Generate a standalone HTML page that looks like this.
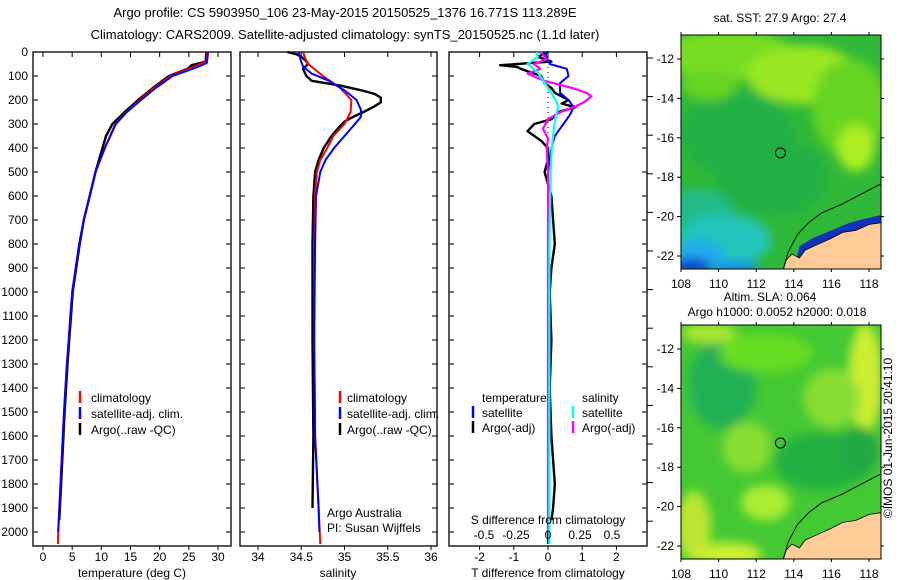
<!DOCTYPE html>
<html><head><meta charset="utf-8">
<style>
html,body{margin:0;padding:0;background:#fff;}
svg{display:block;font-family:"Liberation Sans",sans-serif;font-size:12px;}
</style></head>
<body>
<svg id="fig" width="900" height="580" viewBox="0 0 900 580">
<defs>
<filter id="blur1" x="-20%" y="-20%" width="140%" height="140%"><feGaussianBlur stdDeviation="5"/></filter>
<clipPath id="clipTop"><rect x="681" y="35" width="200" height="234"/></clipPath>
<clipPath id="clipBot"><rect x="681" y="325" width="200" height="234"/></clipPath>
</defs>
<text x="345" y="17" text-anchor="middle" font-size="13">Argo profile: CS 5903950_106 23-May-2015 20150525_1376 16.771S 113.289E</text>
<text x="345" y="39" text-anchor="middle" font-size="13">Climatology: CARS2009. Satellite-adjusted climatology: synTS_20150525.nc (1.1d later)</text>
<g id="panels"></g>
<g id="maps"></g>
<text transform="translate(892,438) rotate(-90)" text-anchor="middle" font-size="12">©IMOS 01-Jun-2015 20:41:10</text>
</svg>
<script>
// ---------------- data ----------------
const depthTicks = [0,100,200,300,400,500,600,700,800,900,1000,1100,1200,1300,1400,1500,1600,1700,1800,1900,2000];
const tempTicks = [0,5,10,15,20,25,30];
const salTicks = [34,34.5,35,35.5,36];
const tdiffTicks = [-2,-1,0,1,2];
const sdiffTicks = [-0.5,-0.25,0,0.25,0.5];
const sdiffTickLabels = ["-0.5","-0.25","0","0.25","0.5"];

const tClimDepth = [0,40,55,100,150,200,250,300,400,500,600,700,800,900,1000,1100,1200,1300,1500,1800,2000,2050];
const tClim      = [28.2,28,26.5,21.8,19,16.6,14.3,12.4,10.6,9.0,8.0,7.0,6.2,5.6,5.0,4.7,4.4,4.1,3.6,3.0,2.6,2.55];
const tSatDepth  = [0,45,60,100,150,200,250,300,400,500,600,700,800,900,1000,1100,1200,1300,1500,1800,2000];
const tSat       = [28.3,28.1,26.8,22.2,19.3,16.8,14.4,12.5,10.6,9.0,8.0,7.0,6.2,5.6,5.0,4.7,4.4,4.1,3.6,3.0,2.6];
const tArgoDepth = [0,40,55,70,100,150,200,250,300,350,400,500,600,700,800,900,1000,1100,1200,1300,1500,1800,1900,1950];
const tArgo      = [28,27.9,25.5,24.8,21.6,18.8,16.3,14,11.9,10.8,10.2,9.0,8.0,7.0,6.3,5.7,5.1,4.8,4.5,4.2,3.7,3.1,2.9,2.8];

const sClimDepth = [0,30,50,100,150,200,250,300,350,400,450,500,600,800,1200,1600,1900,2050];
const sClim      = [34.52,34.55,34.58,34.75,34.95,35.08,35.07,35.0,34.87,34.8,34.72,34.68,34.66,34.65,34.65,34.66,34.7,34.72];
const sSatDepth  = [0,30,60,90,120,160,200,240,270,300,350,400,450,500,600,800,1200,1600,1900,2000];
const sSat       = [34.47,34.49,34.52,34.62,34.82,35.0,35.14,35.19,35.19,35.12,35.0,34.88,34.78,34.72,34.67,34.66,34.65,34.66,34.7,34.71];
const sArgoDepth = [0,10,20,35,50,70,100,120,140,160,175,190,210,230,250,270,290,320,350,400,450,500,600,800,1200,1600,1900];
const sArgo      = [34.34,34.45,34.5,34.55,34.58,34.52,34.56,34.62,34.95,35.2,35.35,35.42,35.42,35.33,35.22,35.1,35.0,34.92,34.85,34.76,34.7,34.66,34.64,34.63,34.63,34.64,34.63];

const dTSatDepth  = [0,50,70,100,130,170,200,230,260,300,350,400,500,700,1000,1500,2050];
const dTSat       = [-0.1,0.05,0.55,0.6,0.35,0.35,0.6,0.75,0.65,0.45,0.2,0.1,0.0,0.0,0.0,0.0,0.0];
const dTArgoDepth = [0,20,40,55,62,70,85,100,130,150,170,200,215,230,250,280,300,330,370,400,450,500,600,700,800,900,1000,1200,1400,1600,1800,1900,1950];
const dTArgo      = [0,-0.3,0.1,-1.4,-0.9,-0.8,-0.5,-0.2,-0.1,0.1,0.2,0.6,0.4,0.8,0.3,0.1,-0.4,-0.6,-0.2,0,0,-0.1,0.1,0.15,0.2,0.1,0.05,0.1,0.05,0.1,0.2,0.15,0.1];
const dSSatDepth  = [0,20,50,80,100,150,200,230,270,300,350,400,500,800,2050];
const dSSat       = [-0.09,-0.08,-0.16,-0.09,-0.06,0.0,0.06,0.08,0.06,0.05,0.04,0.03,0.02,0.01,0.01];
const dSArgoDepth = [0,30,50,70,90,120,150,170,185,210,230,250,280,320,360,400,500,2000];
const dSArgo      = [-0.06,-0.01,-0.11,-0.06,-0.16,-0.03,0.19,0.3,0.34,0.28,0.2,0.1,0.0,-0.04,0.0,-0.01,0.0,0.0];

// ---------------- helpers ----------------
const NS = "http://www.w3.org/2000/svg";
const panelsG = document.getElementById('panels');
const mapsG = document.getElementById('maps');
function mk(tag, attrs, parent){ const e=document.createElementNS(NS,tag); for(const k in attrs) e.setAttribute(k,attrs[k]); parent.appendChild(e); return e; }
const yTop=52, yBot=546;
const yD = d => yTop + d*0.24;
const xT = v => 43 + v*5.833;
const xS = v => 258 + (v-34)*86.5;
const xDT = v => 548 + v*34.2;
const xDS = v => 548 + v*128;

function panel(x0,x1,name){
  const r = mk('rect',{x:x0,y:yTop,width:x1-x0,height:yBot-yTop,fill:'none',stroke:'#000','stroke-width':1.3},panelsG);
  
  
  depthTicks.forEach(d=>{
    mk('line',{x1:x0,x2:x0+5,y1:yD(d),y2:yD(d),stroke:'#000'},panelsG);
    mk('line',{x1:x1,x2:x1-5,y1:yD(d),y2:yD(d),stroke:'#000'},panelsG);
  });
}
function line(xs,ds,xf,color,w,name){
  const pts = xs.map((v,i)=>xf(v).toFixed(1)+','+yD(ds[i]).toFixed(1)).join(' ');
  const p = mk('polyline',{points:pts,fill:'none',stroke:color,'stroke-width':w,'stroke-linejoin':'round'},panelsG);
  
  
}
function txt(x,y,s,anchor,name,size){
  const t = mk('text',{x:x,y:y,'text-anchor':anchor||'start','font-size':size||12},panelsG);
  t.textContent=s;
  
  
  return t;
}
function xTicks(vals,labels,xf,x0,name){
  vals.forEach((v,i)=>{
    mk('line',{x1:xf(v),x2:xf(v),y1:yTop,y2:yTop+5,stroke:'#000'},panelsG);
    mk('line',{x1:xf(v),x2:xf(v),y1:yBot,y2:yBot+4,stroke:'#000'},panelsG);
    txt(xf(v),561,labels[i],'middle',name+'-tick-label');
  });
}

depthTicks.forEach(d=>{ txt(28,yD(d)+4,String(d),'end','depth-tick-label'); });

// panel 1 temperature
panel(33,231,'temperature-panel');
xTicks(tempTicks,tempTicks.map(String),xT,33,'temperature');
txt(132,577,'temperature (deg C)','middle','temperature-axis-title');
line(tArgo,tArgoDepth,xT,'#000',2.4,'temperature-argo-line');
line(tClim,tClimDepth,xT,'#f00',2,'temperature-climatology-line');
line(tSat,tSatDepth,xT,'#00f',2,'temperature-satellite-line');

// panel 2 salinity
panel(240,437,'salinity-panel');
xTicks(salTicks,salTicks.map(String),xS,240,'salinity');
txt(338,577,'salinity','middle','salinity-axis-title');
line(sArgo,sArgoDepth,xS,'#000',2.4,'salinity-argo-line');
line(sClim,sClimDepth,xS,'#f00',2,'salinity-climatology-line');
line(sSat,sSatDepth,xS,'#00f',2,'salinity-satellite-line');
txt(327,517,'Argo Australia','start','credit-argo-australia');
txt(327,532,'PI: Susan Wijffels','start','credit-pi');

[[80,91],[340,347]].forEach(([mx,tx],k)=>{
  const lab=['climatology','satellite-adj. clim.','Argo(..raw -QC)'];
  const col=['#f00','#00f','#000'];
  lab.forEach((s,i)=>{
    const y=397+i*16;
    const l=mk('line',{x1:mx,x2:mx,y1:y-6,y2:y+6,stroke:col[i],'stroke-width':2.5},panelsG);
    
    
    txt(tx,y+5,s,'start','legend-entry');
  });
});

// panel 3 differences
panel(449,647,'difference-panel');
xTicks(tdiffTicks,tdiffTicks.map(String),xDT,449,'t-difference');
for(let y=58;y<=yBot;y+=38.6){ mk('line',{x1:647,x2:653,y1:y,y2:y,stroke:'#000'},panelsG); }
mk('line',{x1:548,x2:548,y1:yTop,y2:yBot,stroke:'#000','stroke-dasharray':'1,4'},panelsG);
line(dTArgo,dTArgoDepth,xDT,'#000',2.4,'t-difference-argo-line');
line(dTSat,dTSatDepth,xDT,'#00f',2,'t-difference-satellite-line');
line(dSArgo,dSArgoDepth,xDS,'#f0f',2.2,'s-difference-argo-line');
line(dSSat,dSSatDepth,xDS,'#0ff',2.2,'s-difference-satellite-line');
txt(548,524,'S difference from climatology','middle','s-difference-axis-title');
sdiffTicks.forEach((v,i)=>txt(xDS(v),539,sdiffTickLabels[i],'middle','s-difference-tick-label'));
txt(548,577,'T difference from climatology','middle','t-difference-axis-title');
txt(482,402,'temperature','start','legend-header-temperature');
txt(582,402,'salinity','start','legend-header-salinity');
[['satellite','#00f','#0ff'],['Argo(-adj)','#000','#f0f']].forEach((r,i)=>{
  const y=412+i*15;
  let l=mk('line',{x1:473,x2:473,y1:y-6,y2:y+6,stroke:r[1],'stroke-width':2.5},panelsG);
   
  l=mk('line',{x1:573,x2:573,y1:y-6,y2:y+6,stroke:r[2],'stroke-width':2.5},panelsG);
   
  txt(482,y+5,r[0],'start','legend-entry');
  txt(582,y+5,r[0],'start','legend-entry');
});

// ---------------- maps ----------------
const lonX = lon => 681 + (lon-108)*18.8;
function latY(lat,top){ return top + 24 + (-12-lat)*19.7; }
function mtxt(x,y,s,anchor,name){
  const t=mk('text',{x:x,y:y,'text-anchor':anchor},mapsG); t.textContent=s;
    return t;
}
const lonTicks=[108,110,112,114,116,118];
const latTicks=[-12,-14,-16,-18,-20,-22];
function map(top,clip,blobs,base,name,coastBand){
  const g=mk('g',{'clip-path':'url(#'+clip+')'},mapsG);
   
  mk('rect',{x:681,y:top,width:200,height:234,fill:base},g);
  const bg=mk('g',{filter:'url(#blur1)'},g);
  blobs.forEach(b=>mk('ellipse',{cx:lonX(b[0]),cy:latY(b[1],top),rx:b[2]*18.8,ry:b[3]*19.7,fill:b[4]},bg));
  if(coastBand){
    mk('polygon',{points:[[114.0,-22.8],[114.3,-21.5],[115,-21.1],[116,-20.7],[117,-20.3],[118.7,-19.9],[118.7,-21],[114.2,-22.8]].map(p=>lonX(p[0])+','+latY(p[1],top)).join(' '),fill:'#1133bb'},g);
  }
  const land=[[113.4,-22.8],[113.6,-22.2],[113.9,-21.9],[114.3,-22.1],[114.6,-21.7],[115.3,-21.4],[116,-21.1],[116.6,-20.8],[117.3,-20.7],[118,-20.4],[118.7,-20.3],[118.7,-22.8]];
  mk('polygon',{points:land.map(p=>lonX(p[0])+','+latY(p[1],top)).join(' '),fill:'#ffcc99',stroke:'#000','stroke-width':0.8},g);
  const cont=[[113.4,-22.8],[113.7,-21.8],[114.2,-20.9],[114.8,-20.3],[115.5,-19.8],[116.5,-19.4],[117.5,-18.9],[118.7,-18.3]];
  mk('polyline',{points:cont.map(p=>lonX(p[0])+','+latY(p[1],top)).join(' '),fill:'none',stroke:'#000','stroke-width':0.9},g);
  const c=mk('circle',{cx:lonX(113.29),cy:latY(-16.77,top),r:5,fill:'none',stroke:'#000','stroke-width':1},mapsG);
   
  mk('rect',{x:681,y:top,width:200,height:234,fill:'none',stroke:'#000','stroke-width':1},mapsG);
  lonTicks.forEach(l=>{
    mk('line',{x1:lonX(l),x2:lonX(l),y1:top,y2:top-3,stroke:'#000'},mapsG);
    mk('line',{x1:lonX(l),x2:lonX(l),y1:top+234,y2:top+237,stroke:'#000'},mapsG);
    mtxt(lonX(l),top+253,String(l),'middle','longitude-tick-label');
  });
  latTicks.forEach(l=>{
    mk('line',{x1:681,x2:677,y1:latY(l,top),y2:latY(l,top),stroke:'#000'},mapsG);
    mk('line',{x1:881,x2:884,y1:latY(l,top),y2:latY(l,top),stroke:'#000'},mapsG);
    mtxt(674,latY(l,top)+4,String(l),'end','latitude-tick-label');
  });
}
map(35,'clipTop',[
  [110.5,-11.8,3.5,1.3,'#77dd22'],[114.5,-12.8,3,1.5,'#99e622'],[117,-14.5,2,2.5,'#66d422'],[117.3,-16.5,1,1.2,'#aaee22'],
  [111,-15.8,3,2.2,'#22b045'],[112.8,-18,3,2,'#22b045'],[109.5,-13.3,1.5,0.8,'#66d422'],
  [109,-19.8,1.8,1.2,'#22bb88'],[110.3,-21.2,2.5,1.3,'#22c4bb'],[109,-22,1.3,0.8,'#22aaee'],[108.6,-22.6,1,0.5,'#1144cc'],[111,-22.6,1.2,0.3,'#1188ee']
],'#30b838','top-map-sst',true);
map(325,'clipBot',[
  [109.2,-14.2,0.8,1.2,'#22ccbb'],[110.2,-13.8,1.8,2.3,'#22b055'],[112.5,-12.2,2.5,1.0,'#66dd22'],[117.8,-13.5,0.9,2.8,'#ccee33'],
  [111.5,-17,1.3,1.3,'#88dd33'],[115.5,-17.7,2.5,1.5,'#22b040'],[117.5,-17.2,1,1.3,'#22a845'],[109.5,-11.2,1.5,0.5,'#aae633'],
  [108.7,-21,0.9,1.8,'#bbe633'],[110.5,-22.4,1.8,0.6,'#ccee33'],[112.5,-19.8,1.3,0.9,'#aaee33'],[116,-14.5,1.5,1.5,'#88dd33']
],'#44c833','bottom-map-sla',false);
mtxt(780,22,'sat. SST: 27.9 Argo: 27.4','middle','top-map-title');
mtxt(770,301,'Altim. SLA: 0.064','middle','bottom-map-title-1');
mtxt(777,316,'Argo h1000: 0.0052 h2000: 0.018','middle','bottom-map-title-2');
</script>
</body></html>
